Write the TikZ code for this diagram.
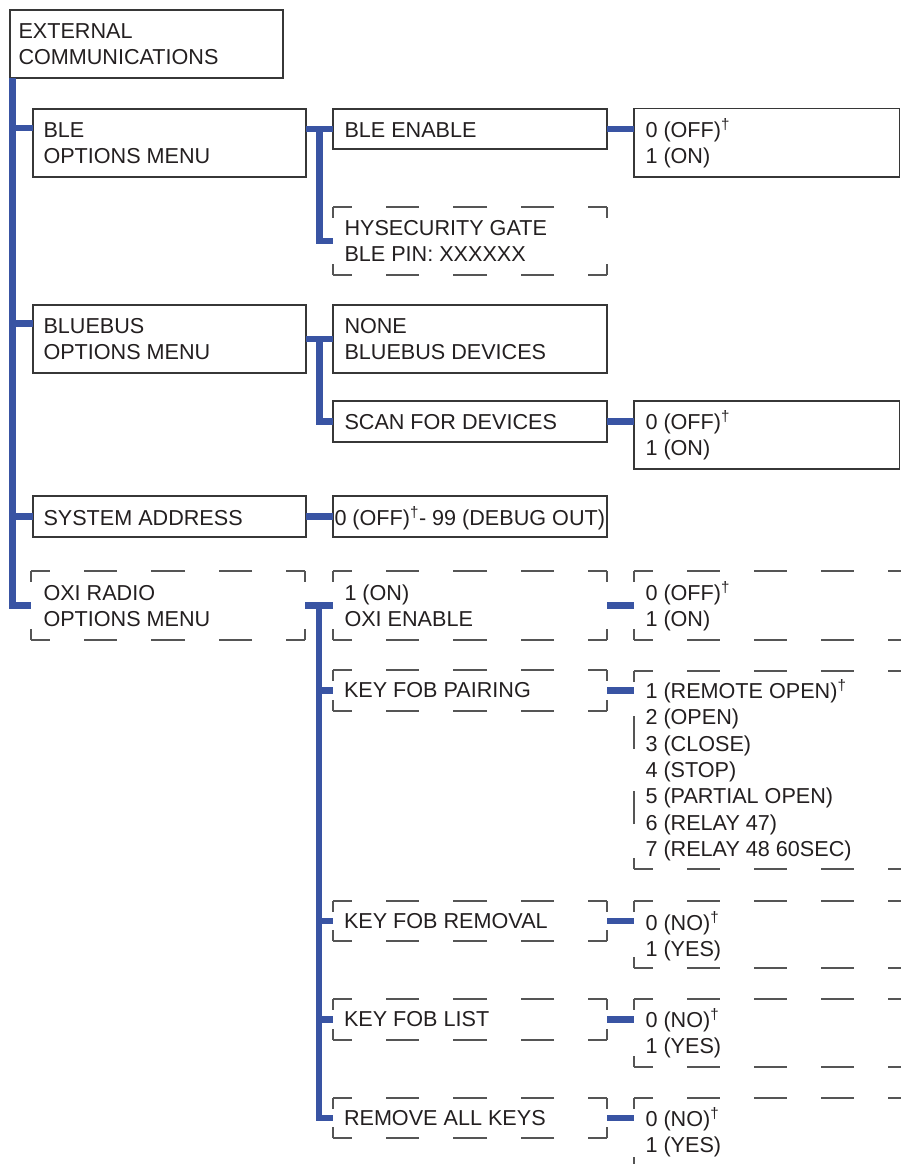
\documentclass[tikz,border=0pt]{standalone}
\usepackage{fontspec}
\setmainfont{Liberation Sans}
\usetikzlibrary{calc}
\definecolor{connblue}{RGB}{57,84,163}
\definecolor{boxline}{RGB}{55,55,55}
\definecolor{dashline}{RGB}{85,85,85}
\definecolor{ink}{RGB}{35,31,32}
\newcommand\tl[1]{\begin{tabular}[t]{@{}l@{}}#1\end{tabular}}
\newcommand\dg{\textsuperscript{†}}
\tikzset{
  sbox/.style={draw=boxline, line width=1.3pt, anchor=north west, inner sep=0pt, outer sep=0pt},
  dbox/.style={anchor=north west, inner sep=0pt, outer sep=0pt},
  txt/.style={anchor=base west, inner sep=0pt, outer sep=0pt, text=ink, font=\fontsize{21.6}{26.3}\selectfont},
  conn/.style={draw=connblue, line width=6.2pt},
  dh/.style={draw=dashline, line width=1.2pt, dash pattern=on 33pt off 34pt, dash phase=14pt},
  dv/.style={draw=dashline, line width=1.2pt, dash pattern=on 33pt off 34pt, dash phase=22pt},
}
\newcommand\dclosed[1]{%
  \draw[dh] (#1.north west) -- (#1.north); \draw[dh] (#1.north east) -- (#1.north);
  \draw[dh] (#1.south west) -- (#1.south); \draw[dh] (#1.south east) -- (#1.south);
  \draw[dv] (#1.north west) -- (#1.west); \draw[dv] (#1.south west) -- (#1.west);
  \draw[dv] (#1.north east) -- (#1.east); \draw[dv] (#1.south east) -- (#1.east);}
\newcommand\dopen[1]{%
  \draw[dh] (#1.north west) -- (#1.north east);
  \draw[dh] (#1.south west) -- (#1.south east);
  \draw[dv] (#1.north west) -- (#1.west); \draw[dv] (#1.south west) -- (#1.west);}
\begin{document}
\begin{tikzpicture}[x=1pt,y=-1pt]
\useasboundingbox (0,0) rectangle (901,1164);
\clip (0,0) rectangle (901,1164);
\fill[white] (0,0) rectangle (901,1164);

% ---- boxes ----
\node[sbox, minimum width=273pt, minimum height=68pt] (root) at (10,10) {};
\node[sbox, minimum width=273pt, minimum height=68pt] (ble) at (33,109) {};
\node[sbox, minimum width=274pt, minimum height=40pt] (bleen) at (333,109) {};
\node[sbox, minimum width=265.5pt, minimum height=68.5pt] (blev) at (634,108.5) {};
\node[dbox, minimum width=274pt, minimum height=68pt] (hys) at (333,207) {};
\node[sbox, minimum width=273pt, minimum height=68pt] (bb) at (33,305) {};
\node[sbox, minimum width=274pt, minimum height=68pt] (none) at (333,305) {};
\node[sbox, minimum width=274pt, minimum height=41pt] (scan) at (333,401) {};
\node[sbox, minimum width=265.5pt, minimum height=68pt] (scanv) at (634,401) {};
\node[sbox, minimum width=273pt, minimum height=41pt] (sys) at (33,496) {};
\node[sbox, minimum width=274pt, minimum height=41pt] (sysv) at (333,496) {};
\node[dbox, minimum width=274pt, minimum height=69pt] (oxi) at (31,571) {};
\node[dbox, minimum width=274pt, minimum height=69pt] (oxien) at (333,571) {};
\node[dbox, minimum width=300pt, minimum height=69pt] (oxienv) at (634,571) {};
\node[dbox, minimum width=274pt, minimum height=41pt] (kfp) at (333,670) {};
\node[dbox, minimum width=300pt, minimum height=198pt] (kfpv) at (634,671) {};
\node[dbox, minimum width=274pt, minimum height=40pt] (kfr) at (333,901) {};
\node[dbox, minimum width=300pt, minimum height=67pt] (kfrv) at (634,901) {};
\node[dbox, minimum width=274pt, minimum height=41pt] (kfl) at (333,999) {};
\node[dbox, minimum width=300pt, minimum height=68pt] (kflv) at (634,999) {};
\node[dbox, minimum width=274pt, minimum height=40pt] (rak) at (333,1098) {};
\node[dbox, minimum width=300pt, minimum height=70pt] (rakv) at (634,1098) {};

\dclosed{hys}\dclosed{oxi}\dclosed{oxien}\dclosed{kfp}\dclosed{kfr}\dclosed{kfl}\dclosed{rak}
\dopen{oxienv}\dopen{kfpv}\dopen{kfrv}\dopen{kflv}\dopen{rakv}

% ---- texts ----
\node[txt] (root-t) at ([shift={(8.5pt,-28pt)}]root.north west) {\tl{EXTERNAL\\COMMUNICATIONS}};
\node[txt] (ble-t) at ([shift={(10.5pt,-28pt)}]ble.north west) {\tl{BLE\\OPTIONS MENU}};
\node[txt] (bleen-t) at ([shift={(11.5pt,-28pt)}]bleen.north west) {BLE ENABLE};
\node[txt] (blev-t) at ([shift={(11.5pt,-28.5pt)}]blev.north west) {\tl{0 (OFF)\dg\\1 (ON)}};
\node[txt] (hys-t) at ([shift={(11.5pt,-28pt)}]hys.north west) {\tl{HYSECURITY GATE\\BLE PIN: XXXXXX}};
\node[txt] (bb-t) at ([shift={(10.5pt,-28pt)}]bb.north west) {\tl{BLUEBUS\\OPTIONS MENU}};
\node[txt] (none-t) at ([shift={(11.5pt,-28pt)}]none.north west) {\tl{NONE\\BLUEBUS DEVICES}};
\node[txt] (scan-t) at ([shift={(11.5pt,-28pt)}]scan.north west) {SCAN FOR DEVICES};
\node[txt] (scanv-t) at ([shift={(11.5pt,-28pt)}]scanv.north west) {\tl{0 (OFF)\dg\\1 (ON)}};
\node[txt] (sys-t) at ([shift={(10.5pt,-29pt)}]sys.north west) {SYSTEM ADDRESS};
\node[txt] (sysv-t) at ([shift={(1.5pt,-29pt)}]sysv.north west) {0 (OFF)\dg- 99 (DEBUG OUT)};
\node[txt] (oxi-t) at ([shift={(12.5pt,-29.5pt)}]oxi.north west) {\tl{OXI RADIO\\OPTIONS MENU}};
\node[txt] (oxien-t) at ([shift={(11.5pt,-29.5pt)}]oxien.north west) {\tl{1 (ON)\\OXI ENABLE}};
\node[txt] (oxienv-t) at ([shift={(11.5pt,-29.5pt)}]oxienv.north west) {\tl{0 (OFF)\dg\\1 (ON)}};
\node[txt] (kfp-t) at ([shift={(11pt,-27.5pt)}]kfp.north west) {KEY FOB PAIRING};
\node[txt] (kfpv-t) at ([shift={(11.5pt,-27.5pt)}]kfpv.north west) {\tl{1 (REMOTE OPEN)\dg\\2 (OPEN)\\3 (CLOSE)\\4 (STOP)\\5 (PARTIAL OPEN)\\6 (RELAY 47)\\7 (RELAY 48 60SEC)}};
\node[txt] (kfr-t) at ([shift={(11pt,-27.5pt)}]kfr.north west) {KEY FOB REMOVAL};
\node[txt] (kfrv-t) at ([shift={(11.5pt,-29pt)}]kfrv.north west) {\tl{0 (NO)\dg\\1 (YES)}};
\node[txt] (kfl-t) at ([shift={(11pt,-27.5pt)}]kfl.north west) {KEY FOB LIST};
\node[txt] (kflv-t) at ([shift={(11.5pt,-28.5pt)}]kflv.north west) {\tl{0 (NO)\dg\\1 (YES)}};
\node[txt] (rak-t) at ([shift={(11pt,-27.5pt)}]rak.north west) {REMOVE ALL KEYS};
\node[txt] (rakv-t) at ([shift={(11.5pt,-28.5pt)}]rakv.north west) {\tl{0 (NO)\dg\\1 (YES)}};

% ---- connectors ----
\coordinate (tr) at ([xshift=2.5pt]root.south west);
\coordinate (ble-in) at ([yshift=-19pt]ble.north west);
\coordinate (bb-in) at ([yshift=-18.5pt]bb.north west);
\draw[conn] (tr) |- (oxi.west);
\draw[conn] (tr |- ble-in) -- (ble-in);
\draw[conn] (tr |- bb-in) -- (bb-in);
\draw[conn] (tr |- sys.west) -- (sys.west);

\coordinate (j1) at ($(ble.east)!.5!(bleen.west)$);
\draw[conn] (ble.east |- bleen.west) -- (bleen.west);
\draw[conn] (j1 |- bleen.west) |- (hys.west);
\draw[conn] (bleen.east) -- (bleen.east -| blev.west);

\coordinate (j2) at ($(bb.east)!.5!(none.west)$);
\draw[conn] (bb.east |- none.west) -- (none.west);
\draw[conn] (j2 |- none.west) |- (scan.west);
\draw[conn] (scan.east) -- (scan.east -| scanv.west);

\draw[conn] (sys.east) -- (sysv.west);

\coordinate (j3) at ($(oxi.east)!.5!(oxien.west)$);
\draw[conn] (oxi.east) -- (oxien.west);
\draw[conn] (j3 |- oxien.west) |- (rak.west);
\draw[conn] (j3 |- kfp.west) -- (kfp.west);
\draw[conn] (j3 |- kfr.west) -- (kfr.west);
\draw[conn] (j3 |- kfl.west) -- (kfl.west);
\draw[conn] (oxien.east) -- (oxien.east -| oxienv.west);
\draw[conn] (kfp.east) -- (kfp.east -| kfpv.west);
\draw[conn] (kfr.east) -- (kfr.east -| kfrv.west);
\draw[conn] (kfl.east) -- (kfl.east -| kflv.west);
\draw[conn] (rak.east) -- (rak.east -| rakv.west);
\end{tikzpicture}
\end{document}
